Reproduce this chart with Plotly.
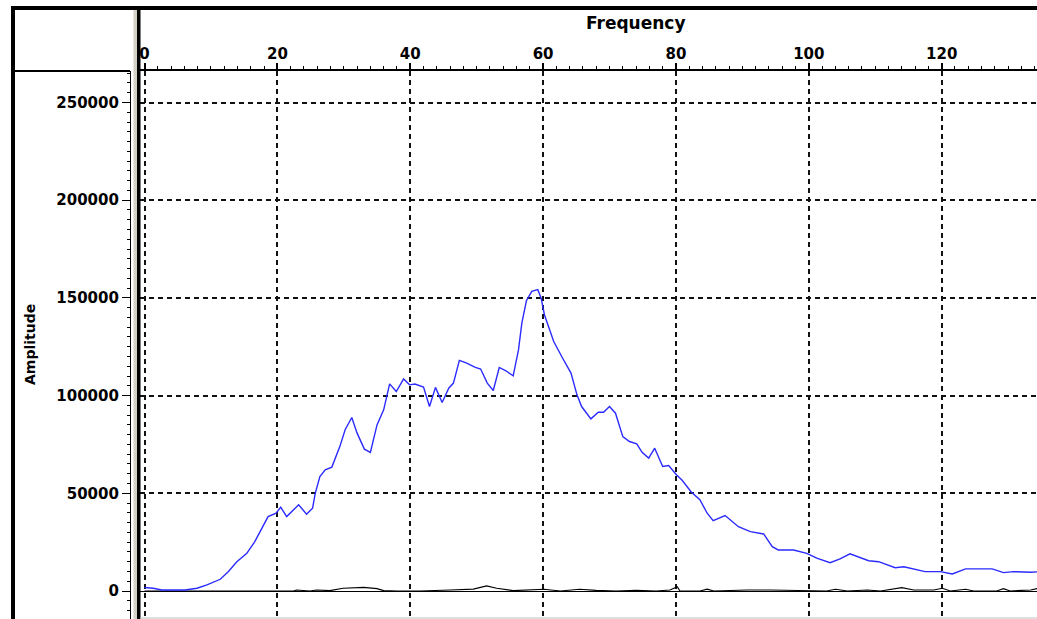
import plotly.graph_objects as go

# Spectrum: frequency vs amplitude (blue) and a low residual trace (black)
freq = [
    0, 1.3, 2.6, 6.1, 7.9, 9.4, 11.4, 12.6, 13.9, 15.4,
    16.6, 18.6, 19.8, 20.5, 21.4, 23.2, 24.4, 25.3, 25.7, 26.4,
    27.2, 28.2, 29.4, 30.2, 31.2, 32.0, 33.1, 34.0, 35.0, 36.0,
    36.9, 37.9, 39.0, 39.9, 40.7, 42.0, 42.9, 43.8, 44.8, 45.8,
    46.5, 47.4, 48.5, 49.8, 50.6, 51.6, 52.5, 53.4, 54.4, 55.5,
    56.3, 56.8, 57.5, 58.3, 59.2, 59.7, 60.2, 61.6, 62.8, 64.2,
    65.1, 65.8, 67.2, 68.3, 69.1, 70.0, 70.9, 72.0, 73.0, 74.1,
    74.9, 75.9, 76.8, 78.0, 78.9, 80.1, 80.9, 82.3, 83.6, 84.7,
    85.6, 87.4, 89.4, 91.2, 93.2, 94.5, 95.4, 97.7, 99.7, 101.2,
    103.2, 104.7, 106.2, 109.0, 110.5, 113.0, 114.3, 117.5, 119.8, 121.6,
    123.6, 127.6, 129.3, 130.8, 133.4, 135.0,
]
amplitude = [
    1800, 1400, 500, 500, 1400, 3100, 6000, 9900, 15000, 19300,
    25300, 38100, 39800, 42900, 38100, 44100, 39300, 42400, 50000, 58600,
    62000, 63400, 73900, 82500, 88800, 80800, 72600, 70900, 85000, 92700,
    106000, 102100, 108500, 105500, 105900, 104400, 94400, 104200, 96500, 103800,
    106400, 118000, 116600, 114400, 113600, 106400, 102600, 114400, 112700, 110100,
    123500, 137100, 148700, 153300, 154200, 150000, 141400, 127700, 120000, 111500,
    100400, 94400, 88100, 91500, 91500, 94400, 91000, 79000, 76500, 75300,
    71000, 68000, 73100, 63700, 64200, 59400, 56800, 50700, 46700, 39800,
    36000, 38600, 32900, 30400, 29200, 22700, 21000, 21000, 19300, 16800,
    14500, 16400, 19000, 15500, 15000, 11900, 12400, 9900, 9900, 8700,
    11300, 11300, 9400, 9900, 9600, 9900,
]

freq_res = [
    0, 22.4, 22.9, 24.9, 25.9, 27.9, 29.9, 33.0, 35.0, 36.0,
    38.0, 41.5, 46.0, 49.5, 51.5, 53.0, 55.5, 60.1, 62.6, 65.5,
    68.0, 71.0, 74.0, 77.0, 79.1, 80.2, 80.6, 83.6, 84.7, 85.7,
    90.7, 94.2, 102.7, 104.0, 105.8, 108.8, 110.8, 114.0, 115.8, 118.8,
    120.1, 121.3, 123.6, 124.8, 128.3, 129.3, 130.3, 133.4, 134.4,
]
amp_res = [
    0, 0, 500, 0, 500, 200, 1400, 1900, 1200, 200,
    0, 0, 500, 1000, 2600, 1400, 200, 900, 0, 900,
    300, 0, 300, 0, 500, 2200, 0, 0, 900, 0,
    500, 500, 0, 900, 0, 500, 0, 1700, 500, 500,
    1400, 0, 900, 0, 0, 1200, 0, 500, 1200,
]

x_ticks = [0, 20, 40, 60, 80, 100, 120]
y_ticks = [0, 50000, 100000, 150000, 200000, 250000]

W, H = 1037, 619
ML, MT = 130, 71
PW, PH = W - ML, H - MT


def px(x):
    return (x - ML) / PW


def py(y):
    return (H - y) / PH


fig = go.Figure()
fig.add_trace(go.Scatter(x=freq_res, y=amp_res, mode="lines",
                         line=dict(color="black", width=1.2), hoverinfo="skip"))
fig.add_trace(go.Scatter(x=freq, y=amplitude, mode="lines",
                         line=dict(color="#2b2bff", width=1.4)))

tick_font = dict(family="DejaVu Sans", size=15, color="black", weight="bold")

fig.update_layout(
    width=W, height=H,
    margin=dict(l=ML, r=0, t=MT, b=0, pad=0),
    paper_bgcolor="white", plot_bgcolor="white",
    showlegend=False,
    xaxis=dict(
        domain=[px(140), 1], range=[-0.68, 134.35],
        side="top", anchor="y",
        tickmode="array", tickvals=x_ticks, ticktext=[str(v) for v in x_ticks],
        ticks="outside", ticklen=6, tickwidth=1.5, tickcolor="black",
        ticklabelstandoff=-2,
        minor=dict(dtick=2, tick0=0, ticks="outside", ticklen=3, tickcolor="black", tickwidth=1),
        showline=True, linecolor="black", linewidth=2,
        showgrid=True, gridcolor="#111111", gridwidth=1.5, griddash="5px,4px",
        zeroline=False, tickfont=tick_font, automargin=False,
    ),
    yaxis=dict(
        domain=[0, 1], range=[-14330, 266120],
        anchor="free", position=0,
        tickmode="array", tickvals=y_ticks, ticktext=[str(v) for v in y_ticks],
        ticks="outside", ticklen=8, tickwidth=1.2, tickcolor="black",
        minor=dict(dtick=5000, tick0=0, ticks="outside", ticklen=3, tickcolor="black", tickwidth=1),
        showline=True, linecolor="black", linewidth=1.2,
        showgrid=True, gridcolor="#111111", gridwidth=1.5, griddash="5px,4px",
        zeroline=True, zerolinecolor="black", zerolinewidth=1.2,
        tickfont=tick_font, automargin=False,
    ),
)

# Frame and panel separators
frame = [
    dict(x0=px(11), x1=1.0, y0=py(10), y1=py(6), fillcolor="black"),
    dict(x0=px(11), x1=px(15), y0=-0.01, y1=py(6), fillcolor="black"),
    dict(x0=px(133.5), x1=px(137), y0=-0.01, y1=py(10), fillcolor="#d4d0c8"),
    dict(x0=px(137), x1=px(140.5), y0=-0.01, y1=py(10), fillcolor="black"),
]
for s in frame:
    fig.add_shape(type="rect", xref="paper", yref="paper", layer="above",
                  line=dict(width=0), **s)
fig.add_shape(type="line", xref="paper", yref="paper", layer="above",
              x0=px(15), x1=0, y0=1, y1=1, line=dict(color="black", width=2))
fig.add_shape(type="line", xref="paper", yref="paper", layer="above",
              x0=px(140), x1=1, y0=py(618), y1=py(618), line=dict(color="#c0c0c0", width=1))

fig.add_annotation(text="Frequency", xref="paper", yref="paper",
                   x=px(636), y=py(23), showarrow=False,
                   xanchor="center", yanchor="middle",
                   font=dict(family="DejaVu Sans", size=17, color="black", weight="bold"))
fig.add_annotation(text="Amplitude", xref="paper", yref="paper",
                   x=px(30), y=py(345), showarrow=False, textangle=-90,
                   xanchor="center", yanchor="middle",
                   font=dict(family="DejaVu Sans", size=14, color="black", weight="bold"))

fig.write_html("out.html")
